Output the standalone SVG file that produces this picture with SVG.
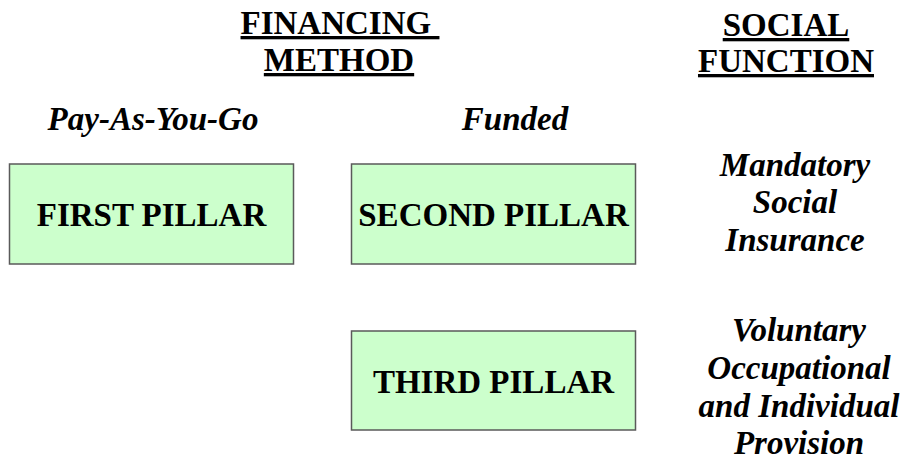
<svg xmlns="http://www.w3.org/2000/svg" width="913" height="461" viewBox="0 0 913 461">
  <style>
    .bg { fill: #ffffff; }
    .pillar rect { fill: #ccffcc; stroke: #5a5a5a; stroke-width: 1.5; }
    .pillar text, .head { font-family: "Liberation Serif", "Times New Roman", serif; font-weight: bold; font-size: 33px; fill: #000; text-anchor: middle; }
    .head { text-decoration: underline; }
    .ital { font-family: "Liberation Serif", "Times New Roman", serif; font-weight: bold; font-style: italic; font-size: 33px; fill: #000; text-anchor: middle; }
  </style>
  <rect class="bg" x="0" y="0" width="913" height="461"/>

  <!-- column headings -->
  <g id="heading-financing">
    <text class="head" x="340" y="34" xml:space="preserve">FINANCING </text>
    <text class="head" x="339" y="71">METHOD</text>
  </g>
  <g id="heading-social">
    <text class="head" x="786" y="36">SOCIAL</text>
    <text class="head" x="786" y="72">FUNCTION</text>
  </g>

  <!-- financing method labels -->
  <g id="label-payg">
    <text class="ital" x="153" y="130">Pay-As-You-Go</text>
  </g>
  <g id="label-funded">
    <text class="ital" x="515" y="130">Funded</text>
  </g>

  <!-- pillars -->
  <g id="first-pillar" class="pillar">
    <rect x="9.5" y="164" width="284" height="100"/>
    <text x="151.5" y="226">FIRST PILLAR</text>
  </g>
  <g id="second-pillar" class="pillar">
    <rect x="351.5" y="164" width="284" height="100"/>
    <text x="493.5" y="226">SECOND PILLAR</text>
  </g>
  <g id="third-pillar" class="pillar">
    <rect x="351.5" y="331" width="284" height="99"/>
    <text x="493.5" y="393">THIRD PILLAR</text>
  </g>

  <!-- social function labels -->
  <g id="label-mandatory">
    <text class="ital" x="795" y="176">Mandatory</text>
    <text class="ital" x="795" y="213">Social</text>
    <text class="ital" x="795" y="251">Insurance</text>
  </g>
  <g id="label-voluntary">
    <text class="ital" x="799" y="341">Voluntary</text>
    <text class="ital" x="799" y="379">Occupational</text>
    <text class="ital" x="799" y="417">and Individual</text>
    <text class="ital" x="799" y="454">Provision</text>
  </g>

  <!-- no connectors are drawn between the pillars -->
  <g id="connectors"/>
</svg>
